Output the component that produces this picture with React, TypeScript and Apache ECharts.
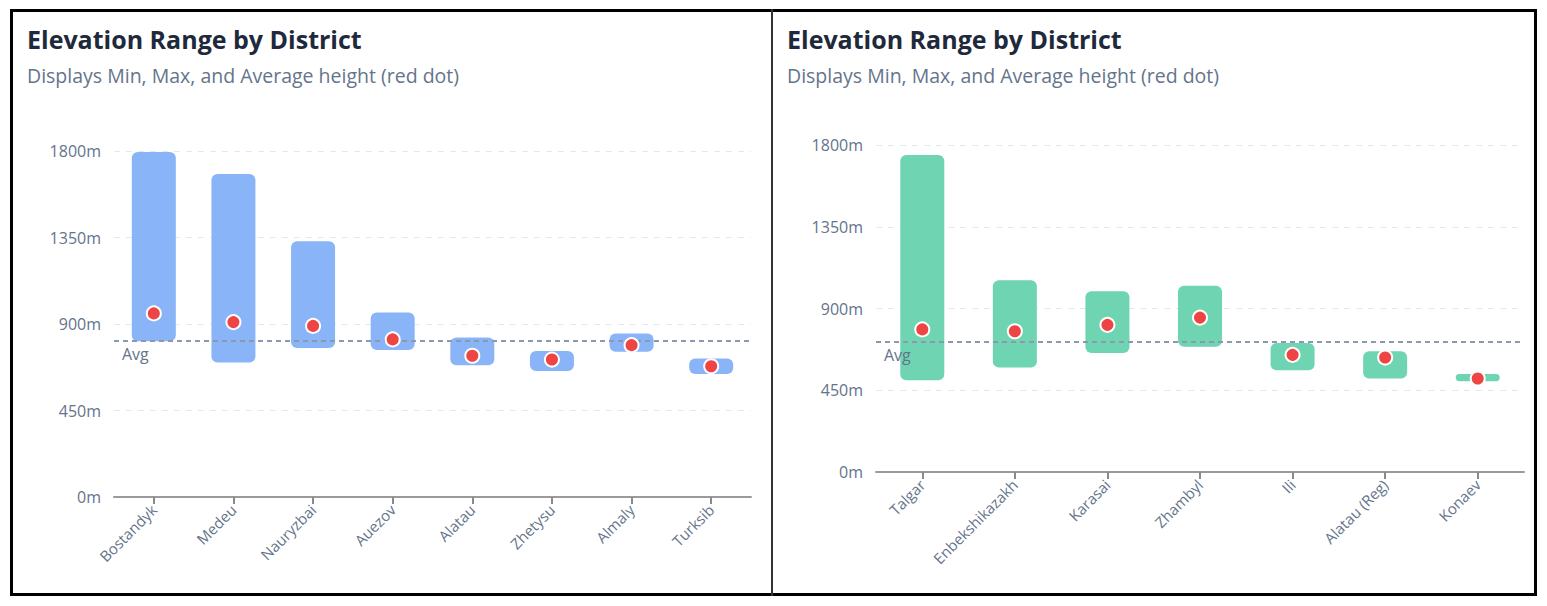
import * as echarts from 'echarts';
import { useEffect, useRef } from 'react';

// Almaty city districts
const cityDistricts = ['Bostandyk', 'Medeu', 'Nauryzbai', 'Auezov', 'Alatau', 'Zhetysu', 'Almaly', 'Turksib'];
const cityMin = [810, 700, 775, 765, 685, 655, 755, 640];
const cityMax = [1795, 1680, 1330, 960, 830, 760, 850, 720];
const cityAvg = [955, 910, 890, 820, 735, 715, 790, 680];

// Almaty region districts
const regionDistricts = ['Talgar', 'Enbekshikazakh', 'Karasai', 'Zhambyl', 'Ili', 'Alatau (Reg)', 'Konaev'];
const regionMin = [505, 575, 655, 690, 560, 515, 500];
const regionMax = [1745, 1055, 995, 1025, 710, 665, 540];
const regionAvg = [785, 775, 810, 850, 645, 630, 515];

const elevationTicks = [0, 450, 900, 1350, 1800];

const FONT = '"Open Sans", "Noto Sans", sans-serif';

interface RangeChartProps {
    districts: string[];
    mins: number[];
    maxs: number[];
    avgs: number[];
    color: string;
    grid: { left: number; right: number; top: number; bottom: number };
    style: React.CSSProperties;
}

const RangeChart = ({ districts, mins, maxs, avgs, color, grid, style }: RangeChartProps) => {
    const chartDiv = useRef<HTMLDivElement>(null);

    useEffect(() => {
        const chart = echarts.init(chartDiv.current, undefined, { renderer: 'svg' });

        chart.setOption({
            animation: false,
            textStyle: { fontFamily: FONT },
            title: {
                text: 'Elevation Range by District',
                subtext: 'Displays Min, Max, and Average height (red dot)',
                left: 14,
                top: 14,
                padding: 0,
                itemGap: 14,
                textStyle: { fontSize: 25, fontWeight: 'bold', color: '#1e293b', fontFamily: FONT },
                subtextStyle: { fontSize: 19.5, color: '#64748b', fontFamily: FONT }
            },
            grid: { ...grid, containLabel: false },
            xAxis: {
                type: 'category',
                data: districts,
                axisLine: { lineStyle: { color: '#9a9a9a', width: 2 } },
                axisTick: { show: true, alignWithLabel: true, length: 7, lineStyle: { color: '#8a8a8a', width: 2 } },
                axisLabel: { rotate: 45, color: '#64748b', fontSize: 15, margin: 10, fontFamily: FONT }
            },
            yAxis: {
                type: 'value',
                min: elevationTicks[0],
                max: elevationTicks[elevationTicks.length - 1],
                interval: elevationTicks[1] - elevationTicks[0],
                axisLine: { show: false },
                axisTick: { show: false },
                axisLabel: {
                    formatter: (v: number) => `${v}m`,
                    color: '#64748b',
                    fontSize: 16,
                    margin: 13,
                    fontFamily: FONT
                },
                splitLine: { lineStyle: { color: '#e2e8f0', type: [6, 6], width: 1 } }
            },
            series: [
                {
                    type: 'bar',
                    stack: 'range',
                    data: mins,
                    barWidth: 44,
                    itemStyle: { color: 'transparent' },
                    silent: true
                },
                {
                    type: 'bar',
                    stack: 'range',
                    data: maxs.map((v, i) => v - mins[i]),
                    barWidth: 44,
                    itemStyle: { color: color, borderRadius: 6 }
                },
                {
                    type: 'scatter',
                    data: avgs,
                    symbolSize: 14,
                    z: 5,
                    itemStyle: { color: '#ef4444', borderColor: '#ffffff', borderWidth: 2, opacity: 1 },
                    markLine: {
                        silent: true,
                        symbol: 'none',
                        data: [{ type: 'average', name: 'Avg' }],
                        lineStyle: { color: '#8b98ad', type: [5, 4], width: 2 },
                        label: {
                            position: 'insideStartBottom',
                            formatter: 'Avg',
                            color: '#64748b',
                            fontSize: 16,
                            distance: [8, 5],
                            fontFamily: FONT
                        }
                    }
                }
            ]
        });

        return () => {
            chart.dispose();
        };
    }, [districts, mins, maxs, avgs, color, grid]);

    return <div ref={chartDiv} style={style} />;
};

const App = () => {
    return (
        <div style={{ position: 'fixed', left: 0, top: 0, width: 1547, height: 606, background: '#ffffff' }}>
            <div
                style={{
                    position: 'absolute',
                    left: 10,
                    top: 9,
                    width: 1527,
                    height: 587,
                    border: '3px solid #000',
                    boxSizing: 'border-box'
                }}
            />
            <div style={{ position: 'absolute', left: 771, top: 9, width: 2, height: 587, background: '#333' }} />
            <RangeChart
                districts={cityDistricts}
                mins={cityMin}
                maxs={cityMax}
                avgs={cityAvg}
                color="#8ab4f8"
                grid={{ left: 101, right: 20, top: 139, bottom: 96 }}
                style={{ position: 'absolute', left: 13, top: 12, width: 758, height: 581 }}
            />
            <RangeChart
                districts={regionDistricts}
                mins={regionMin}
                maxs={regionMax}
                avgs={regionAvg}
                color="#6fd4b2"
                grid={{ left: 103, right: 10, top: 133, bottom: 121 }}
                style={{ position: 'absolute', left: 773, top: 12, width: 761, height: 581 }}
            />
        </div>
    );
};

export default App;
